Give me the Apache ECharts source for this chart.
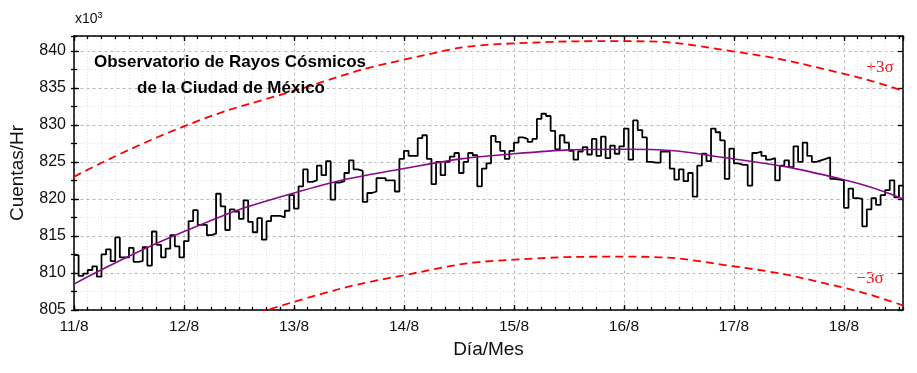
<!DOCTYPE html>
<html>
<head>
<meta charset="utf-8">
<script src="https://cdn.jsdelivr.net/npm/echarts@6/dist/echarts.min.js"></script>
<style>html,body{margin:0;padding:0;background:#fff}#c{width:917px;height:373px}</style>
</head>
<body>
<div id="c"></div>
<script>
// Tick labels (one per day)
const dayLabels = ['11/8','12/8','13/8','14/8','15/8','16/8','17/8','18/8'];
// Hourly counts (x10^3 counts/hr), starting 11/8 00:00
const counts = [
 812.4, 809.6, 809.9, 810.4, 810.9, 809.5, 812.5, 813.2, 811.6, 814.8, 812.1, 812.1,
 813.4, 811.5, 811.6, 813.5, 811.0, 815.6, 813.8, 812.1, 813.3, 815.1, 813.6, 812.1,
 814.3, 817.0, 818.5, 816.5, 816.5, 815.1, 815.3, 820.7, 819.0, 815.8, 818.6, 818.3,
 817.3, 819.8, 816.9, 815.5, 817.4, 814.5, 817.0, 817.7, 817.7, 817.5, 818.4, 820.5,
 818.7, 821.7, 824.0, 822.3, 822.5, 824.5, 823.2, 825.1, 819.9, 822.2, 822.4, 823.5,
 825.2, 824.0, 823.8, 819.6, 820.8, 821.0, 822.8, 822.8, 822.5, 822.5, 821.0, 825.4,
 826.5, 825.8, 825.8, 828.2, 828.6, 825.4, 822.0, 825.0, 823.2, 825.0, 825.7, 826.2,
 823.5, 825.0, 826.2, 825.9, 821.7, 824.1, 824.8, 828.5, 827.7, 826.5, 825.4, 826.5,
 827.6, 828.3, 828.1, 827.7, 828.1, 830.8, 831.5, 831.2, 829.2, 826.7, 828.6, 827.6,
 826.5, 825.3, 826.4, 827.0, 826.0, 828.1, 825.8, 828.4, 825.5, 827.2, 826.1, 827.1,
 829.5, 825.3, 830.6, 829.3, 828.3, 825.0, 824.9, 824.9, 826.4, 826.4, 824.1, 822.6,
 824.0, 822.4, 823.5, 820.3, 824.5, 826.1, 825.1, 829.5, 829.0, 827.9, 822.7, 826.8,
 824.8, 824.6, 824.6, 821.8, 826.2, 826.4, 825.8, 825.3, 825.5, 822.5, 824.5, 825.2,
 824.3, 827.1, 825.0, 827.6, 825.8, 825.0, 825.2, 825.4, 825.6, 822.7, 822.6, 822.5,
 818.8, 821.4, 820.1, 820.0, 816.3, 818.6, 820.1, 819.2, 820.5, 821.2, 822.5, 820.2,
 821.8
];
// Fitted trend (days since 11/8)
const fitDays = [0, 1, 2, 3, 4, 5, 6, 7, 7.537];
const fitVals = [808.5, 815.6, 820.8, 824.1, 826.1, 826.7, 825.4, 822.6, 820.0];
// +3 sigma band
const plusDays = [0, 1, 2, 3, 4, 5, 6, 7, 7.537];
const plusVals = [823.0, 829.8, 834.6, 838.8, 841.0, 841.3, 839.9, 836.9, 834.6];
// -3 sigma band
const minusDays = [1, 2, 3, 4, 5, 6, 7, 7.537];
const minusVals = [801.1, 806.1, 809.7, 811.8, 812.2, 810.9, 808.0, 805.6];

const FONT = 'Liberation Sans, Arial, sans-serif';
const X_MIN = 0, X_MAX = 7.537, Y_MIN = 805, Y_MAX = 842;

const stepData = counts.map((v, i) => [i / 24, v]);
stepData.push([counts.length / 24, counts[counts.length - 1]]);
const pair = (xs, ys) => xs.map((x, i) => [x, ys[i]]);

const chart = echarts.init(document.getElementById('c'), null, {renderer: 'canvas'});
const axisLine = {show: true, onZero: false, lineStyle: {color: '#000', width: 1.5}};
const majorSplit = {show: true, lineStyle: {color: '#b5b5b5', width: 1, type: [3, 3]}};
const minorSplit = {show: true, lineStyle: {color: '#e2e2e2', width: 1, type: [1, 2]}};

function xAx(pos, major, withLabels) {
  return {
    type: 'value', position: pos, min: X_MIN, max: X_MAX,
    interval: major ? 1 : 0.125,
    axisLine: major ? axisLine : {show: false},
    axisTick: {show: true, inside: true, length: major ? 5 : 3, lineStyle: {color: '#000', width: 1.3}},
    splitLine: (pos === 'bottom') ? (major ? majorSplit : minorSplit) : {show: false},
    axisLabel: withLabels ? {
      show: true, margin: 9, color: '#111', fontFamily: FONT, fontSize: 15.5,
      showMaxLabel: false,
      formatter: v => { const i = Math.round(v); return Math.abs(v - i) < 1e-6 && dayLabels[i] ? dayLabels[i] : ''; }
    } : {show: false},
    name: withLabels ? 'Día/Mes' : '',
    nameLocation: 'middle', nameGap: 30,
    nameTextStyle: {fontFamily: FONT, fontSize: 19, color: '#111'}
  };
}
function yAx(pos, major, withLabels) {
  return {
    type: 'value', position: pos, min: Y_MIN, max: Y_MAX,
    interval: major ? 5 : 2.5,
    axisLine: major ? axisLine : {show: false},
    axisTick: {show: true, inside: true, length: major ? 5 : 3, lineStyle: {color: '#000', width: 1.3}},
    splitLine: (pos === 'left') ? (major ? majorSplit : minorSplit) : {show: false},
    axisLabel: withLabels ? {
      show: true, margin: 8, color: '#111', fontFamily: FONT, fontSize: 16,
      showMaxLabel: false
    } : {show: false},
    name: withLabels ? 'Cuentas/Hr' : '',
    nameLocation: 'middle', nameGap: 47,
    nameTextStyle: {fontFamily: FONT, fontSize: 19, color: '#111'}
  };
}

chart.setOption({
  animation: false,
  backgroundColor: '#fff',
  grid: {left: 74, right: 14, top: 36, bottom: 63, containLabel: false},
  xAxis: [xAx('bottom', true, true), xAx('bottom', false, false), xAx('top', true, false), xAx('top', false, false)],
  yAxis: [yAx('left', true, true), yAx('left', false, false), yAx('right', true, false), yAx('right', false, false)],
  series: [
    {type: 'line', data: stepData, step: 'end', showSymbol: false, clip: true, z: 3,
     lineStyle: {color: '#000', width: 1.8}},
    {type: 'line', data: pair(fitDays, fitVals), smooth: 0.5, showSymbol: false, clip: true, z: 4,
     lineStyle: {color: '#8b0a8b', width: 1.6}},
    {type: 'line', data: pair(plusDays, plusVals), smooth: 0.5, showSymbol: false, clip: true, z: 2,
     lineStyle: {color: '#ff0000', width: 1.8, type: [8, 5]}},
    {type: 'line', data: pair(minusDays, minusVals), smooth: 0.5, showSymbol: false, clip: true, z: 2,
     lineStyle: {color: '#ff0000', width: 1.8, type: [8, 5]}}
  ],
  graphic: [
    {type: 'text', left: 75, top: 11, style: {
      text: 'x10{s|3}', fill: '#111', font: '14px ' + FONT,
      rich: {s: {fontSize: 9, verticalAlign: 'top', padding: [0, 0, 8, 0], fontFamily: FONT}}}},
    {type: 'text', x: 230, y: 62, z: 10, style: {
      text: 'Observatorio de Rayos Cósmicos', fill: '#000', font: 'bold 17px ' + FONT,
      align: 'center', verticalAlign: 'middle'}},
    {type: 'text', x: 231, y: 88, z: 10, style: {
      text: 'de la Ciudad de México', fill: '#000', font: 'bold 17px ' + FONT,
      align: 'center', verticalAlign: 'middle'}},
    {type: 'text', x: 880, y: 68, style: {
      text: '+3σ', fill: '#ee1111', font: '17px Liberation Serif, serif',
      align: 'center', verticalAlign: 'middle'}},
    {type: 'text', x: 870, y: 279, style: {
      text: '−3σ', fill: '#ee1111', font: '17px Liberation Serif, serif',
      align: 'center', verticalAlign: 'middle'}}
  ]
});
</script>
</body>
</html>
